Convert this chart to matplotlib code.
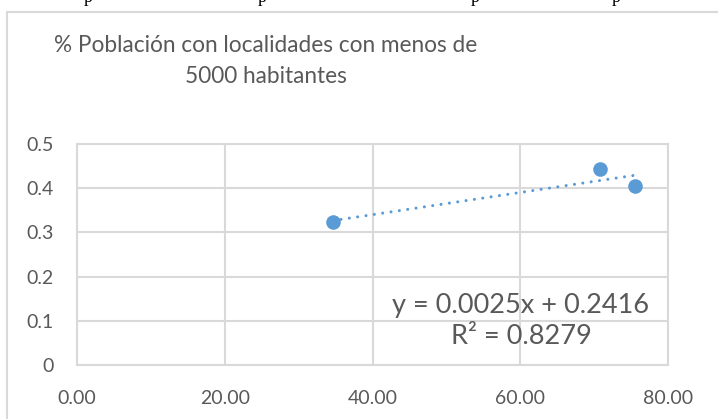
import numpy as np
import matplotlib
matplotlib.use("Agg")
import matplotlib.pyplot as plt
from matplotlib.patches import Rectangle

# Data
x_vals = [34.6, 70.8, 75.6]
y_vals = [0.3235, 0.444, 0.406]
x_ticks = [0, 20, 40, 60, 80]
x_tick_labels = ["0.00", "20.00", "40.00", "60.00", "80.00"]
y_ticks = [0, 0.1, 0.2, 0.3, 0.4, 0.5]
y_tick_labels = ["0", "0.1", "0.2", "0.3", "0.4", "0.5"]
title = "% Población con localidades con menos de\n5000 habitantes"
eq_text = "y = 0.0025x + 0.2416\nR² = 0.8279"

plt.rcParams['font.family'] = ['Lato', 'DejaVu Sans']

W, H = 718, 419
fig = plt.figure(figsize=(W / 100, H / 100), dpi=100)
ax = fig.add_axes([77 / W, 1 - 365 / H, (668 - 77) / W, (365 - 144) / H])

blue = "#5b9bd5"
grid = "#d9d9d9"
gray = "#595959"

# trendline
coef = np.polyfit(x_vals, y_vals, 1)
xs = np.array([min(x_vals), max(x_vals)])
ax.plot(xs, np.polyval(coef, xs), color=blue, lw=2.2,
        linestyle=(0, (0.01, 2.75)), dash_capstyle='round', zorder=3)
ax.plot(x_vals, y_vals, 'o', color=blue, markersize=10.5, zorder=4, markeredgewidth=0)

ax.set_xlim(0, 80)
ax.set_ylim(0, 0.5)
ax.set_xticks(x_ticks)
ax.set_xticklabels(x_tick_labels)
ax.set_yticks(y_ticks)
ax.set_yticklabels(y_tick_labels)
ax.tick_params(length=0, labelsize=14, labelcolor=gray)
ax.tick_params(axis='x', pad=18)
ax.tick_params(axis='y', pad=17)
ax.grid(True, color=grid, lw=1.5)
ax.set_axisbelow(True)
for s in ax.spines.values():
    s.set_color(grid)
    s.set_linewidth(1.5)

fig.text(0.5 * (65 + 466) / W, 1 - 61 / H, title, ha='center', va='center',
         multialignment='center', fontsize=16.3, color=gray, linespacing=1.55)
fig.text(521 / W, 1 - 321 / H, eq_text, ha='center', va='center',
         multialignment='center', fontsize=19.5, color=gray, linespacing=1.3)

# chart border
fig.add_artist(Rectangle((7 / W, -0.1), 1.2, 1 - 12 / H + 0.1, transform=fig.transFigure,
                         fill=False, edgecolor=grid, lw=1.5, clip_on=False))

# partial text line above the chart (only descenders visible, as in the reference)
for px in [88, 262, 475, 616]:
    fig.text(px / W, 1 - 2 / H, "p", ha='center', va='baseline',
             family=['Liberation Serif'], fontsize=13, color='black')

fig.savefig("out.png", dpi=100)
